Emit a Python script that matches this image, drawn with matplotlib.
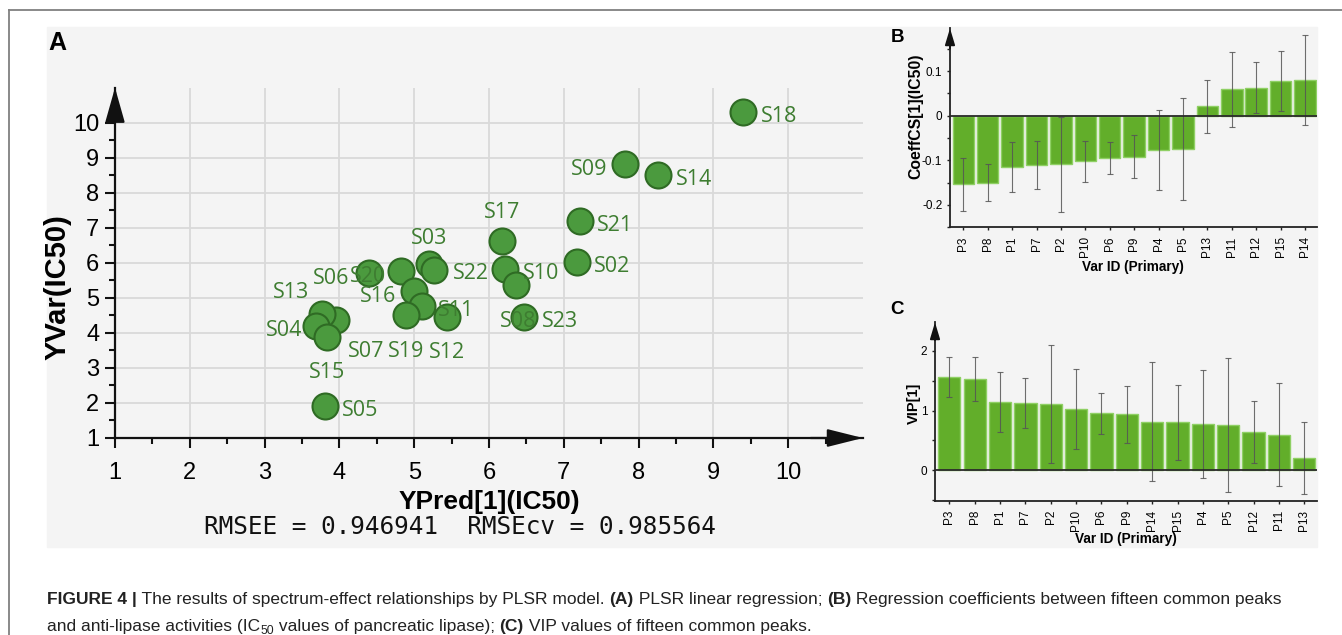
import matplotlib
matplotlib.use('Agg')
import matplotlib.pyplot as plt
import matplotlib.patches as mpatches
from matplotlib.lines import Line2D
from matplotlib.ticker import MultipleLocator, FixedLocator, FuncFormatter

plt.rcParams['font.family'] = ['Liberation Sans', 'DejaVu Sans']
plt.rcParams['axes.unicode_minus'] = False

W, H = 1342, 635

# panel A: PLSR observed vs predicted
samples = ['S18', 'S09', 'S14', 'S21', 'S02', 'S17', 'S10', 'S08', 'S23', 'S03', 'S22',
           'S06', 'S20', 'S16', 'S11', 'S12', 'S19', 'S07', 'S13', 'S04', 'S15', 'S05']
ypred = [9.40, 7.82, 8.26, 7.21, 7.17, 6.18, 6.21, 6.36, 6.47, 5.20, 5.26,
         4.39, 4.83, 5.00, 5.10, 5.44, 4.89, 3.95, 3.77, 3.69, 3.84, 3.81]
yvar = [10.31, 8.81, 8.50, 7.19, 6.02, 6.62, 5.83, 5.38, 4.45, 5.98, 5.81,
        5.71, 5.77, 5.21, 4.76, 4.45, 4.50, 4.38, 4.55, 4.21, 3.88, 1.90]
rmsee = 0.946941
rmsecv = 0.985564

# panel B: regression coefficients
peaks_b = ['P3', 'P8', 'P1', 'P7', 'P2', 'P10', 'P6', 'P9', 'P4', 'P5', 'P13', 'P11', 'P12', 'P15', 'P14']
coef_b = [-0.154, -0.150, -0.114, -0.111, -0.109, -0.102, -0.095, -0.092, -0.077, -0.075,
          0.021, 0.059, 0.063, 0.078, 0.080]
coef_ci = [0.060, 0.042, 0.056, 0.054, 0.106, 0.046, 0.036, 0.048, 0.089, 0.114,
           0.060, 0.084, 0.057, 0.067, 0.100]

# panel C: VIP
peaks_c = ['P3', 'P8', 'P1', 'P7', 'P2', 'P10', 'P6', 'P9', 'P14', 'P15', 'P4', 'P5', 'P12', 'P11', 'P13']
vip_c = [1.564, 1.525, 1.145, 1.128, 1.106, 1.034, 0.955, 0.939, 0.816, 0.804, 0.777, 0.760,
         0.648, 0.598, 0.212]
vip_ci = [0.333, 0.369, 0.503, 0.422, 0.986, 0.670, 0.346, 0.475, 1.003, 0.626, 0.902, 1.120,
          0.520, 0.860, 0.603]

# label offsets in pixels (dx right, dy up)
label_offsets = {
    'S18': (36, -2), 'S09': (-36, -3), 'S14': (36, -2), 'S21': (35, -2), 'S02': (36, -2),
    'S17': (0, 31), 'S10': (36, -2), 'S08': (2, -34), 'S23': (36, -2), 'S03': (0, 28),
    'S22': (37, -1), 'S06': (-37, -3), 'S20': (-33, -3), 'S16': (-36, -3), 'S11': (34, -2),
    'S12': (0, -33), 'S19': (0, -34), 'S07': (31, -29), 'S13': (-31, 24), 'S04': (-32, -2),
    'S15': (0, -33), 'S05': (35, -2),
}


def fx(px):
    return px / W


def fy(py):
    return 1 - py / H


def add_axes_px(left, top, right, bottom):
    return fig.add_axes([fx(left), fy(bottom), (right - left) / W, (bottom - top) / H])


fig = plt.figure(figsize=(W / 100, H / 100), dpi=100)
fig.patch.set_facecolor('white')

# gray plot background and frame lines
fig.patches.append(mpatches.Rectangle((fx(47), fy(547)), fx(1317) - fx(47), fy(27) - fy(547),
                                      transform=fig.transFigure, color='#f4f4f4', zorder=-5))
fig.add_artist(Line2D([fx(9), 1], [fy(10), fy(10)], color='#808080', lw=1.3))
fig.add_artist(Line2D([fx(9), fx(9)], [fy(10), 0], color='#808080', lw=1.3))

# ---------------- panel A ----------------
ax = add_axes_px(115, 87.7, 863, 438)
ax.set_facecolor('none')
ax.set_xlim(1, 11)
ax.set_ylim(1, 11)
for s in ['top', 'right']:
    ax.spines[s].set_visible(False)
for s in ['left', 'bottom']:
    ax.spines[s].set_linewidth(1.6)
    ax.spines[s].set_color('#111111')
ax.set_xticks(range(1, 11))
ax.set_yticks(range(1, 11))
ax.xaxis.set_minor_locator(FixedLocator([i + 0.5 for i in range(1, 11)]))
ax.yaxis.set_minor_locator(FixedLocator([i + 0.5 for i in range(1, 10)]))
ax.tick_params(which='major', length=7, width=1.5, labelsize=17, color='#111111')
ax.tick_params(which='minor', length=4.3, width=1.5, color='#111111')
ax.tick_params(axis='x', which='major', pad=10.5)
ax.tick_params(axis='y', which='major', pad=4.3)
ax.grid(True, which='major', color='#d9d9d9', lw=1.3, zorder=0)
ax.set_axisbelow(True)

ax.annotate('', xy=(1, 11), xytext=(1, 10.3),
            arrowprops=dict(arrowstyle='-|>,head_length=2.16,head_width=0.61', mutation_scale=10,
                            color='#111111', lw=1.6, shrinkA=0, shrinkB=0), annotation_clip=False)
ax.annotate('', xy=(11, 1), xytext=(10.3, 1),
            arrowprops=dict(arrowstyle='-|>,head_length=2.2,head_width=0.55', mutation_scale=10,
                            color='#111111', lw=1.6, shrinkA=0, shrinkB=0), annotation_clip=False)

ax.scatter(ypred, yvar, s=350, facecolor='#4b9a3e', edgecolor='#2f6b24', lw=1.5, zorder=3, clip_on=False)
for name, xv, yv in zip(samples, ypred, yvar):
    ax.annotate(name, (xv, yv), xytext=label_offsets[name], textcoords='offset pixels',
                ha='center', va='center_baseline', fontsize=15.5, color='#3e7d31',
                family=['Open Sans', 'DejaVu Sans'], zorder=4)

ax.set_xlabel('YPred[1](IC50)', fontsize=19, weight='bold')
ax.xaxis.set_label_coords(0.5, (438 - 501.7) / 350.3)
ax.xaxis.label.set_va('center')
ax.set_ylabel('YVar(IC50)', fontsize=21, weight='bold')
ax.yaxis.set_label_coords((58 - 115) / 748, 0.43)
ax.yaxis.label.set_va('center')

fig.text(fx(460), fy(524), f'RMSEE = {rmsee:.6f}  RMSEcv = {rmsecv:.6f}', ha='center',
         va='center_baseline', fontsize=17.6, family='DejaVu Sans Mono', color='#111111')
fig.text(fx(57), fy(40), 'A', fontsize=18, weight='bold', ha='center', va='center_baseline')


# ---------------- panels B and C ----------------
def bar_panel(axb, labels, values, ci, ylim, major, minor, fmt):
    axb.set_facecolor('none')
    xs = list(range(len(values)))
    axb.bar(xs, values, width=0.88, color='#62ae2a', edgecolor='#8fd064', linewidth=1, zorder=2)
    axb.errorbar(xs, values, yerr=ci, fmt='none', ecolor='#555555', elinewidth=0.8,
                 capsize=2.3, capthick=0.8, alpha=0.85, zorder=3)
    axb.axhline(0, color='#2a2a2a', lw=1.3, zorder=4)
    axb.set_ylim(*ylim)
    for s in ['top', 'right']:
        axb.spines[s].set_visible(False)
    for s in ['left', 'bottom']:
        axb.spines[s].set_linewidth(1.3)
        axb.spines[s].set_color('#222222')
    axb.yaxis.set_major_locator(MultipleLocator(major))
    axb.yaxis.set_minor_locator(MultipleLocator(minor))
    axb.yaxis.set_major_formatter(FuncFormatter(fmt))
    axb.set_xticks(xs)
    axb.set_xticklabels(labels, rotation=90)
    axb.tick_params(which='both', length=2.5, width=1, color='#222222', labelsize=8.5, pad=3)
    axb.tick_params(axis='x', pad=4)
    axb.annotate('', xy=(0, 1), xytext=(0, 0.9), xycoords='axes fraction',
                 arrowprops=dict(arrowstyle='-|>,head_length=1.0,head_width=0.3', mutation_scale=10,
                                 color='#111111', lw=1.3, shrinkA=0, shrinkB=0), annotation_clip=False)


def fmt_coef(v, pos):
    return f'{round(v, 2) + 0:g}'


def fmt_vip(v, pos):
    return f'{round(v) + 0:g}'


axb = add_axes_px(950, 28.3, 1316.7, 227.3)
bar_panel(axb, peaks_b, coef_b, coef_ci, (-0.25, 0.196), 0.1, 0.05, fmt_coef)
axb.set_xlim(-0.545, 14.48)
axb.set_ylabel('CoeffCS[1](IC50)', fontsize=11.3, weight='bold')
axb.yaxis.set_label_coords((916 - 950) / 366.7, 0.557)
axb.set_xlabel('Var ID (Primary)', fontsize=9.8, weight='bold')
axb.xaxis.set_label_coords(0.5, (227.3 - 266.7) / 199)
axb.xaxis.label.set_va('center')
axb.yaxis.label.set_va('center')
fig.text(fx(897), fy(35), 'B', fontsize=13.5, weight='bold', ha='center', va='center_baseline')

axc = add_axes_px(935, 322.3, 1316.7, 500.7)
bar_panel(axc, peaks_c, vip_c, vip_ci, (-0.51, 2.48), 1, 0.5, fmt_vip)
axc.set_xlim(-0.565, 14.49)
axc.set_ylabel('VIP[1]', fontsize=10.5, weight='bold')
axc.yaxis.set_label_coords((914 - 935) / 381.7, 0.548)
axc.set_xlabel('Var ID (Primary)', fontsize=9.8, weight='bold')
axc.xaxis.set_label_coords(0.5, (500.7 - 539.5) / 178.4)
axc.xaxis.label.set_va('center')
axc.yaxis.label.set_va('center')
fig.text(fx(897), fy(307), 'C', fontsize=13.5, weight='bold', ha='center', va='center_baseline')

# ---------------- caption ----------------
renderer = fig.canvas.get_renderer()
cap_size = 12.5


def text_width(s, weight, size):
    t1 = fig.text(0, 0, '|' + s + '|', fontsize=size, weight=weight)
    t2 = fig.text(0, 0, '||', fontsize=size, weight=weight)
    w = t1.get_window_extent(renderer).width - t2.get_window_extent(renderer).width
    t1.remove()
    t2.remove()
    return w


def draw_runs(x_px, base_px, runs):
    x = x_px
    for s, style in runs:
        weight = 'bold' if style == 'b' else 'normal'
        size = cap_size * 0.7 if style == 'sub' else cap_size
        y = base_px + (3 if style == 'sub' else 0)
        fig.text(fx(x), fy(y), s, fontsize=size, weight=weight, ha='left', va='baseline', color='#222222')
        x += text_width(s, weight, size)


draw_runs(47, 604, [
    ('FIGURE 4 |', 'b'), (' The results of spectrum-effect relationships by PLSR model. ', 'n'),
    ('(A)', 'b'), (' PLSR linear regression; ', 'n'), ('(B)', 'b'),
    (' Regression coefficients between fifteen common peaks', 'n'),
])
draw_runs(47, 631, [
    ('and anti-lipase activities (IC', 'n'), ('50', 'sub'), (' values of pancreatic lipase); ', 'n'),
    ('(C)', 'b'), (' VIP values of fifteen common peaks.', 'n'),
])

fig.savefig('out.png', dpi=100)
